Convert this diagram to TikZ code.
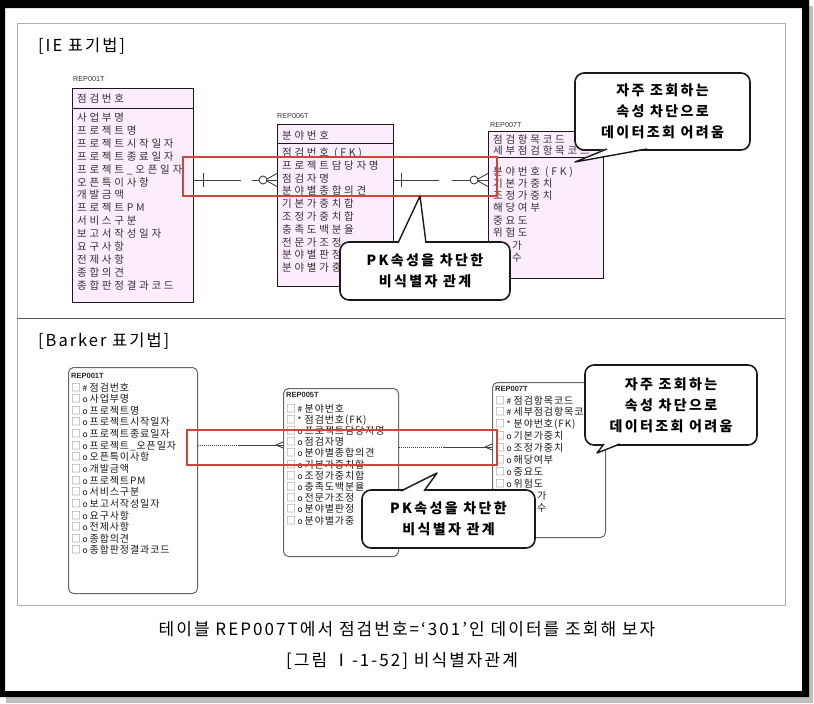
\documentclass[tikz,border=0pt]{standalone}
\usepackage{fontspec}
\usetikzlibrary{calc}
\newfontfamily\kr{Noto Sans CJK KR}
\newfontfamily\krA[LetterSpace=26]{Noto Sans CJK KR}
\newfontfamily\krB[LetterSpace=9]{Noto Sans CJK KR}
\newfontfamily\krC[LetterSpace=17]{Noto Sans CJK KR}
\newfontfamily\krD[LetterSpace=12]{Noto Sans CJK KR}
\newfontfamily\arial{Liberation Sans}
\definecolor{iepink}{RGB}{251,237,251}
\definecolor{redbox}{RGB}{205,70,55}
\definecolor{panelgray}{RGB}{175,175,175}
\begin{document}
\begin{tikzpicture}[x=1pt,y=-1pt,
  iebox/.style={draw=black!90, line width=0.9pt, fill=iepink, anchor=north west, inner sep=0pt},
  bkbox/.style={draw=black!60, line width=1pt, rounded corners=5pt, fill=white, anchor=north west, inner sep=0pt},
  iesep/.style={draw=black!90, line width=0.9pt},
  ierow/.style={anchor=base west, inner sep=0pt, font=\krA\fontsize{10.5}{12}\selectfont, text=black!80},
  bkrow/.style={anchor=base west, inner sep=0pt, font=\krB\fontsize{10}{11}\selectfont, text=black!90},
  tlabel/.style={anchor=base west, inner sep=0pt, font=\arial\fontsize{7.2}{8}\selectfont, text=black!80},
  blabel/.style={anchor=base west, inner sep=0pt, font=\arial\bfseries\fontsize{7.5}{8}\selectfont, text=black!85},
  hilite/.style={draw=redbox, line width=1.4pt},
  bubble/.style={draw=black!90, line width=1.6pt, rounded corners=9pt, fill=white, align=center, inner sep=0pt, font=\krC\bfseries\fontsize{14}{21}\selectfont},
  tailline/.style={draw=black!90, line width=1.4pt, line join=round},
  rel/.style={draw=black!75, line width=0.9pt},
  sectitle/.style={anchor=west, inner sep=0pt, font=\krD\fontsize{16.5}{19}\selectfont},
  captxt/.style={inner sep=0pt, font=\krD\fontsize{17}{20}\selectfont}
]
\useasboundingbox (0,0) rectangle (814,704);
\fill[white] (0,0) rectangle (814,704);
% outer frame with shadow
\fill[black!25] (6,696) rectangle (813,703);
\fill[black!25] (808,6) rectangle (813,703);
\fill[black, even odd rule] (0,0) rectangle (809,697) (5,8) rectangle (802,691);
% panel
\draw[panelgray, line width=1pt] (17,23) rectangle (785,605);
\draw[black!65, line width=1pt] (17,318) -- (785,318);
\node[sectitle] (ttl1) at (38,46) {[IE 표기법]};
\node[sectitle] (ttl2) at (38,341) {[Barker 표기법]};

% ---------------- IE tables
\node[tlabel] (l1) at (73,81) {REP001T};
\node[iebox, minimum width=121pt, minimum height=214pt] (t1) at (72,88) {};
\draw[iesep] ([yshift=-20pt]t1.north west) -- ([yshift=-20pt]t1.north east);
\node[ierow] (t1h) at (77,102) {점검번호};
\foreach \t [count=\i from 0] in {사업부명,프로젝트명,프로젝트시작일자,프로젝트종료일자,프로젝트\_오픈일자,오픈특이사항,개발금액,프로젝트PM,서비스구분,보고서작성일자,요구사항,전제사항,종합의견,종합판정결과코드}
  \node[ierow] (t1r\i) at (77,{121.5+12.9*\i}) {\t};

\node[tlabel] (l2) at (277,118) {REP006T};
\node[iebox, minimum width=116pt, minimum height=162pt] (t2) at (277,124) {};
\draw[iesep] ([yshift=-19pt]t2.north west) -- ([yshift=-19pt]t2.north east);
\node[ierow] (t2h) at (282,139) {분야번호};
\foreach \t [count=\i from 0] in {점검번호 (FK),프로젝트담당자명,점검자명,분야별종합의견,기본가중치합,조정가중치합,충족도백분율,전문가조정,분야별판정,분야별가중}
  \node[ierow] (t2r\i) at (282,{156.5+12.8*\i}) {\t};

\node[tlabel] (l3) at (490,127) {REP007T};
\node[iebox, minimum width=115pt, minimum height=147pt] (t3) at (488,131) {};
\draw[iesep] ([yshift=-26pt]t3.north west) -- ([yshift=-26pt]t3.north east);
\node[ierow] (t3h1) at (493,143) {점검항목코드};
\node[ierow] (t3h2) at (493,154) {세부점검항목코드};
\foreach \t [count=\i from 0] in {분야번호 (FK),기본가중치,조정가중치,해당여부,중요도,위험도}
  \node[ierow] (t3r\i) at (493,{175+12.3*\i}) {\t};
\node[ierow] (t3r6) at (512,249) {가};
\node[ierow] (t3r7) at (512,261) {수};

% IE relationships
\coordinate (ia) at (t1.north east |- 0,180);
\coordinate (ib) at (t2.north west |- 0,180);
\draw[rel] (ia) -- ++(47,0);
\draw[rel] ($(ia)+(10,-7)$) -- ++(0,14);
\draw[rel] ($(ib)+(-25,0)$) -- (ib);
\draw[rel] ($(ib)+(-12,0)$) -- ($(ib)+(0,-6.5)$);
\draw[rel] ($(ib)+(-12,0)$) -- ($(ib)+(0,6.5)$);
\draw[rel, fill=white] ($(ib)+(-14,0)$) circle (4pt);
\coordinate (ic) at (t2.north east |- 0,180);
\coordinate (id) at (t3.north west |- 0,180);
\draw[rel] (ic) -- ++(45,0);
\draw[rel] ($(ic)+(8,-7)$) -- ++(0,14);
\draw[rel] ($(id)+(-36,0)$) -- (id);
\draw[rel] ($(id)+(-12,0)$) -- ($(id)+(0,-6.5)$);
\draw[rel] ($(id)+(-12,0)$) -- ($(id)+(0,6.5)$);
\draw[rel, fill=white] ($(id)+(-14,0)$) circle (4pt);

% ---------------- Barker tables
\node[bkbox, minimum width=129pt, minimum height=226pt] (b1) at (68,367) {};
\node[blabel] (bl1) at (71,378) {REP001T};
\foreach \s/\t [count=\i from 0] in {\#/점검번호,o/사업부명,o/프로젝트명,o/프로젝트시작일자,o/프로젝트종료일자,o/프로젝트\_오픈일자,o/오픈특이사항,o/개발금액,o/프로젝트PM,o/서비스구분,o/보고서작성일자,o/요구사항,o/전제사항,o/종합의견,o/종합판정결과코드}
  \node[bkrow] (b1r\i) at (71,{391+11.64*\i}) {\makebox[11.5pt][l]{\textcolor{black!55}{\fontsize{10}{10}\selectfont □}}\makebox[7pt][l]{\fontsize{8.5}{8}\selectfont\s}\t};

\node[bkbox, minimum width=115pt, minimum height=168pt] (b2) at (283,388) {};
\node[blabel] (bl2) at (286,397) {REP005T};
\foreach \s/\t [count=\i from 0] in {\#/분야번호,*/점검번호(FK),o/프로젝트담당자명,o/점검자명,o/분야별종합의견,o/기본가중치합,o/조정가중치합,o/충족도백분율,o/전문가조정,o/분야별판정,o/분야별가중}
  \node[bkrow] (b2r\i) at (286,{412+11.2*\i}) {\makebox[11.5pt][l]{\textcolor{black!55}{\fontsize{10}{10}\selectfont □}}\makebox[7pt][l]{\fontsize{8.5}{8}\selectfont\s}\t};

\node[bkbox, minimum width=113pt, minimum height=155pt] (b3) at (492,382) {};
\node[blabel] (bl3) at (495,391) {REP007T};
\foreach \s/\t [count=\i from 0] in {\#/점검항목코드,\#/세부점검항목코드,*/분야번호(FK),o/기본가중치,o/조정가중치,o/해당여부,o/중요도,o/위험도}
  \node[bkrow] (b3r\i) at (495,{404+11.9*\i}) {\makebox[11.5pt][l]{\textcolor{black!55}{\fontsize{10}{10}\selectfont □}}\makebox[7pt][l]{\fontsize{8.5}{8}\selectfont\s}\t};
\node[bkrow] (b3r8) at (537,499) {가};
\node[bkrow] (b3r9) at (537,511) {수};

% Barker relationships
\coordinate (ba) at (b1.north east |- 0,445);
\coordinate (bb) at (b2.north west |- 0,445);
\draw[rel, dash pattern=on 1pt off 1pt] (ba) -- ++(41,0);
\draw[rel] ($(ba)+(41,0)$) -- (bb);
\draw[rel] ($(bb)+(-7,0)$) -- ($(bb)+(0,-3)$);
\draw[rel] ($(bb)+(-7,0)$) -- ($(bb)+(0,3)$);
\coordinate (bc) at (b2.north east |- 0,447);
\coordinate (bd) at (b3.north west |- 0,447);
\draw[rel, dash pattern=on 1pt off 1pt] (bc) -- ++(45,0);
\draw[rel] ($(bc)+(45,0)$) -- (bd);
\draw[rel] ($(bd)+(-7,0)$) -- ($(bd)+(0,-3)$);
\draw[rel] ($(bd)+(-7,0)$) -- ($(bd)+(0,3)$);

% red highlight boxes
\draw[hilite] (183,157) rectangle (497,196);
\draw[hilite] (187,430) rectangle (497,465);

% callouts
\node[bubble, minimum width=170pt, minimum height=58pt] (pk1) at (425,271) {PK속성을 차단한\\비식별자 관계};
\fill[white] (398,244) -- (420,196) -- (426,244) -- cycle;
\draw[tailline] (398,243) -- (420,196) -- (426,243);

\node[bubble, minimum width=175pt, minimum height=77pt] (nt1) at (662.5,111.5) {자주 조회하는\\속성 차단으로\\데이터조회 어려움};
\fill[white] (607,148) -- (575,162) -- (647,148) -- cycle;
\draw[tailline] (607,149) -- (575,162) -- (647,149);

\node[bubble, minimum width=173pt, minimum height=58pt] (pk2) at (448.5,519) {PK속성을 차단한\\비식별자 관계};
\fill[white] (401,492) -- (437,473) -- (424,492) -- cycle;
\draw[tailline] (401,491) -- (437,473) -- (424,491);

\node[bubble, minimum width=172pt, minimum height=80pt] (nt2) at (671,405) {자주 조회하는\\속성 차단으로\\데이터조회 어려움};
\fill[white] (604,443) -- (597,453) -- (620,443) -- cycle;
\draw[tailline] (604,444) -- (597,453) -- (620,444);

% captions
\node[captxt] (cap1) at (407,629) {테이블 REP007T에서 점검번호=‘301’인 데이터를 조회해 보자};
\node[captxt] (cap2) at (402,661) {[그림 Ⅰ-1-52] 비식별자관계};
\end{tikzpicture}
\end{document}
